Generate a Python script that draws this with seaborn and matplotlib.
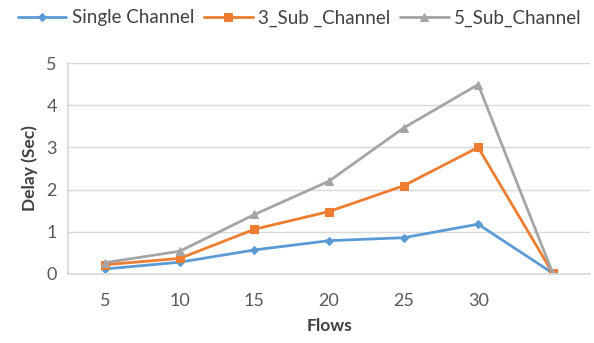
import matplotlib
matplotlib.use("Agg")
import matplotlib.pyplot as plt
import seaborn as sns
import pandas as pd

flows = ["5", "10", "15", "20", "25", "30", ""]
single_channel = [0.12, 0.28, 0.57, 0.79, 0.86, 1.18, 0.02]
sub3_channel = [0.22, 0.37, 1.06, 1.48, 2.09, 3.00, 0.02]
sub5_channel = [0.27, 0.54, 1.41, 2.20, 3.46, 4.49, 0.02]
series_names = ["Single Channel", "3_Sub _Channel", "5_Sub_Channel"]

sns.set_theme(style="white")
plt.rcParams['font.family'] = ['Lato', 'DejaVu Sans']

df = pd.DataFrame({
    "Flows": flows * 3,
    "Delay": single_channel + sub3_channel + sub5_channel,
    "Series": [series_names[0]] * 7 + [series_names[1]] * 7 + [series_names[2]] * 7,
})

colors = ["#5B9BD5", "#ED7D31", "#A5A5A5"]
markers = {"Single Channel": "D", "3_Sub _Channel": "s", "5_Sub_Channel": "^"}
sizes = {"Single Channel": 4.5, "3_Sub _Channel": 6, "5_Sub_Channel": 6}

fig = plt.figure(figsize=(5.94, 3.43), dpi=100)
ax = fig.add_axes([68/594, 1-274/343, (590-68)/594, (274-63)/343])

for name, col in zip(series_names, colors):
    sub = df[df["Series"] == name]
    sns.lineplot(data=sub, x="Flows", y="Delay", ax=ax, color=col, sort=False,
                 marker=markers[name], markersize=sizes[name], linewidth=2,
                 markeredgecolor=col, label=name)

ax.set_xlim(-0.5, 6.5)
ax.set_ylim(0, 5)
ax.set_yticks([0, 1, 2, 3, 4, 5])
ax.yaxis.grid(True, color="#D9D9D9", linewidth=1)
ax.xaxis.grid(False)
for s in ["top", "right"]:
    ax.spines[s].set_visible(False)
ax.spines["left"].set_color("#D9D9D9")
ax.spines["bottom"].set_color("#D9D9D9")
ax.tick_params(axis="both", colors="#595959", labelsize=13, length=0)
ax.tick_params(axis="x", pad=14)
ax.tick_params(axis="y", pad=8)
ax.set_xlabel("Flows", fontsize=12.5, fontweight="bold", color="#404040", labelpad=6)
ax.set_ylabel("Delay (Sec)", fontsize=12.5, fontweight="bold", color="#404040", labelpad=6)

leg = ax.legend(loc="center", bbox_to_anchor=(0.444, 1 + 45/211), ncol=3, frameon=False,
                fontsize=13.5, handlelength=2.6, columnspacing=0.5, handletextpad=0.3,
                borderaxespad=0)
for t in leg.get_texts():
    t.set_color("#404040")

fig.savefig("out.png", dpi=100)
